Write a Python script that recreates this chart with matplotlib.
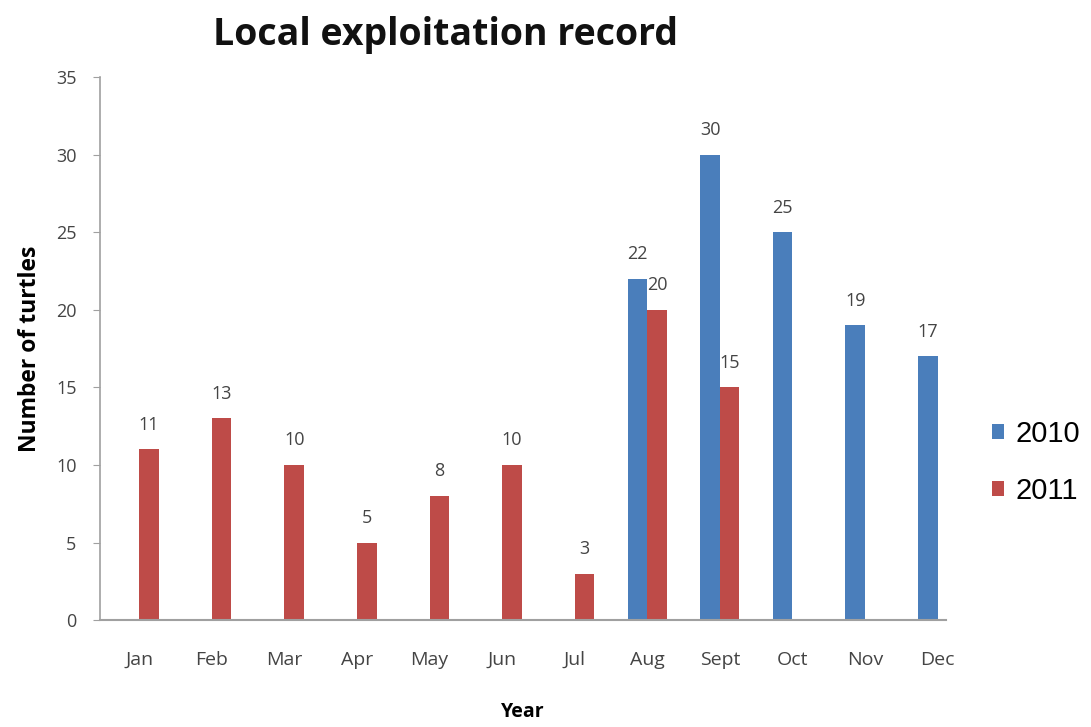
import matplotlib
matplotlib.use("Agg")
import matplotlib.pyplot as plt
import numpy as np

months = ["Jan", "Feb", "Mar", "Apr", "May", "Jun", "Jul", "Aug", "Sept", "Oct", "Nov", "Dec"]
series_2010 = [0, 0, 0, 0, 0, 0, 0, 22, 30, 25, 19, 17]
series_2011 = [11, 13, 10, 5, 8, 10, 3, 20, 15, 0, 0, 0]
yticks = [0, 5, 10, 15, 20, 25, 30, 35]

blue = "#4A7EBB"
red = "#BE4B48"
font = "Open Sans"
tc = "#444444"

fig = plt.figure(figsize=(10.91, 7.27), dpi=100)
ax = fig.add_axes([0.0917, 0.147, 0.775, 0.747])

x = np.arange(len(months))
w = 0.27
b1 = ax.bar(x - w / 2, series_2010, w, color=blue, label="2010")
b2 = ax.bar(x + w / 2, series_2011, w, color=red, label="2011")

for bars, vals in ((b1, series_2010), (b2, series_2011)):
    for r, v in zip(bars, vals):
        if v > 0:
            ax.text(r.get_x() + r.get_width() / 2, v + 1.0, str(v), ha="center", va="bottom",
                    fontsize=13, color=tc, family=font)

ax.set_xlim(-0.54, 11.11)
ax.set_ylim(0, 35)
ax.set_yticks(yticks)
ax.set_xticks(x)
ax.set_xticklabels(months, family=font, fontsize=14, color=tc)
for t in ax.get_yticklabels():
    t.set_family(font)
    t.set_fontsize(13)
    t.set_color(tc)

for s in ("top", "right"):
    ax.spines[s].set_visible(False)
ax.spines["left"].set_color("#A0A0A0")
ax.spines["bottom"].set_color("#A0A0A0")
ax.spines["left"].set_linewidth(1.2)
ax.spines["bottom"].set_linewidth(1.5)
ax.tick_params(axis="y", length=5, color="#A0A0A0", pad=12)
ax.tick_params(axis="x", length=0, pad=22)

ax.set_ylabel("Number of turtles", family=font, fontsize=16.5, fontweight="bold", labelpad=10)
ax.set_xlabel("Year", family=font, fontsize=14, fontweight="bold", labelpad=24)
fig.text(0.408, 0.952, "Local exploitation record", ha="center", va="center",
         family=font, fontsize=27, fontweight="bold", color="#111111")

leg = ax.legend(loc="center left", bbox_to_anchor=(1.024, 0.29), frameon=False,
                prop={"family": "Liberation Sans", "size": 21}, handlelength=0.4,
                handleheight=0.4, handletextpad=0.4, labelspacing=1.0)

fig.savefig("out.png", dpi=100)
